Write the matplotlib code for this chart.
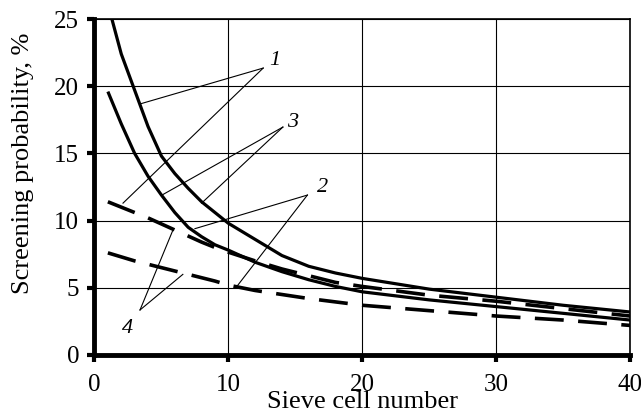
import numpy as np
import matplotlib.pyplot as plt

plt.rcParams['font.family'] = ['Liberation Serif', 'DejaVu Serif']

# cell numbers
x1 = [1.3, 2, 3, 4, 5, 6, 7, 8, 9, 10, 12, 14, 16, 18, 20, 25, 30, 35, 40]
xs = [1, 2, 3, 4, 5, 6, 7, 8, 9, 10, 12, 14, 16, 18, 20, 25, 30, 35, 40]

# screening probability, %
y_solid_up = [25, 22.4, 19.7, 17.0, 14.8, 13.5, 12.4, 11.4, 10.6, 9.8, 8.6, 7.4, 6.6, 6.1, 5.7, 4.9, 4.3, 3.7, 3.2]
y_solid_lo = [19.6, 17.2, 15.0, 13.3, 11.9, 10.6, 9.5, 8.8, 8.2, 7.8, 6.9, 6.2, 5.6, 5.1, 4.7, 4.1, 3.6, 3.1, 2.6]
y_dash_up = [11.4, 11.0, 10.6, 10.2, 9.75, 9.3, 8.85, 8.4, 8.0, 7.65, 7.0, 6.4, 5.9, 5.4, 5.1, 4.45, 4.0, 3.45, 2.9]
y_dash_lo = [7.6, 7.3, 7.0, 6.75, 6.5, 6.25, 6.0, 5.75, 5.5, 5.2, 4.8, 4.5, 4.2, 3.95, 3.7, 3.3, 2.9, 2.6, 2.2]

# curve labels: where the leader lines start, text position, line ends
labels = ['1', '3', '2', '4']
label_xy = [(12.6, 21.35), (14.07, 16.96), (15.9, 11.9), (3.4, 3.35)]
label_txt = [(13.5, 21.9), (14.8, 17.3), (17.05, 12.5), (2.5, 2.0)]
leader_ends = [[(3.47, 18.7), (2.13, 11.3)],
               [(5.04, 11.9), (8.0, 11.3)],
               [(7.5, 9.4), (10.6, 5.06)],
               [(5.86, 9.3), (6.6, 6.0)]]

fig = plt.figure(figsize=(6.41, 4.17), dpi=100)
ax = fig.add_axes([0.1474, 0.1487, 0.8356, 0.8057])

ax.plot(x1, y_solid_up, '-', color='k', lw=2.3, solid_capstyle='butt')
ax.plot(xs, y_solid_lo, '-', color='k', lw=2.3, solid_capstyle='butt')
ax.plot(xs, y_dash_up, color='k', lw=2.6, dashes=(8, 4))
ax.plot(xs, y_dash_lo, color='k', lw=2.6, dashes=(8, 4))

for lab, a, t, ends in zip(labels, label_xy, label_txt, leader_ends):
    for e in ends:
        ax.plot([a[0], e[0]], [a[1], e[1]], color='k', lw=0.8)
    ax.text(t[0], t[1], lab, fontsize=16, style='italic', ha='center', va='center')

ax.set_xlim(0, 40)
ax.set_ylim(0, 25)
ax.set_xticks([0, 10, 20, 30, 40])
ax.set_yticks([0, 5, 10, 15, 20, 25])
ax.grid(True, color='k', lw=0.8)
ax.set_axisbelow(True)

ax.spines['left'].set_linewidth(3.5)
ax.spines['bottom'].set_linewidth(3.5)
ax.spines['top'].set_linewidth(1.2)
ax.spines['right'].set_linewidth(1.2)
ax.tick_params(axis='both', length=5, width=3, labelsize=18)
ax.tick_params(axis='y', pad=6)
ax.tick_params(axis='x', pad=9)

ax.set_xlabel('Sieve cell number', fontsize=19, labelpad=-4)
ax.set_ylabel('Screening probability, %', fontsize=19)
ax.yaxis.set_label_coords(-0.112, 0.57)

plt.savefig('out.png', dpi=100)
